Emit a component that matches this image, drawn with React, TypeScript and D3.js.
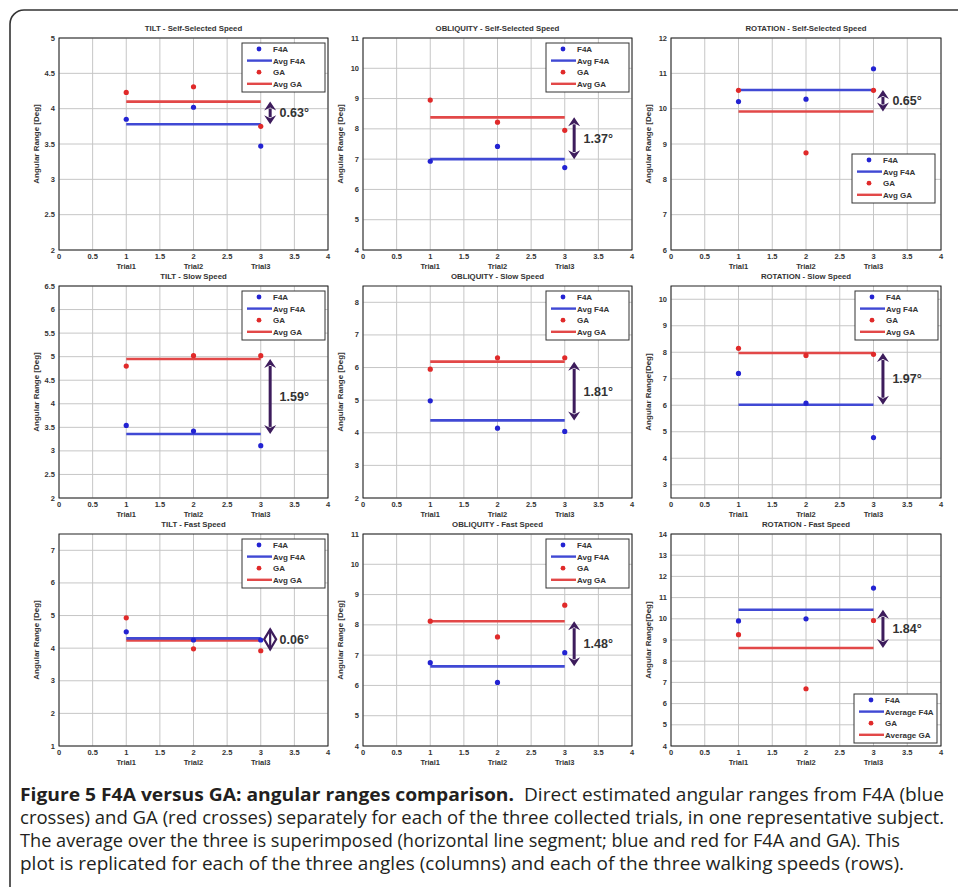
import * as d3 from "d3";

const ANGLES = ["TILT", "OBLIQUITY", "ROTATION"];
const SPEEDS = ["Self-Selected Speed", "Slow Speed", "Fast Speed"];
const TRIALS = [1, 2, 3];
const TRIAL_LABELS = ["Trial1", "Trial2", "Trial3"];
const X_TICKS = [0, 0.5, 1, 1.5, 2, 2.5, 3, 3.5, 4];

// one entry per panel, row by row (self-selected, slow, fast), columns tilt / obliquity / rotation
const F4A = [
  [3.85, 4.02, 3.47], [6.93, 7.42, 6.72], [10.2, 10.27, 11.13],
  [3.54, 3.42, 3.11], [4.98, 4.14, 4.04], [7.2, 6.08, 4.78],
  [4.5, 4.25, 4.25], [6.75, 6.1, 7.08], [9.9, 10.0, 11.45],
];
const GA = [
  [4.23, 4.31, 3.75], [8.95, 8.22, 7.95], [10.52, 8.75, 10.52],
  [4.8, 5.02, 5.02], [5.95, 6.3, 6.3], [8.15, 7.88, 7.92],
  [4.93, 3.98, 3.92], [8.12, 7.6, 8.65], [9.25, 6.7, 9.92],
];
const AVG_F4A = [3.78, 7.0, 10.53, 3.36, 4.38, 6.02, 4.3, 6.63, 10.43];
const AVG_GA = [4.1, 8.38, 9.92, 4.95, 6.18, 7.97, 4.24, 8.12, 8.62];
const DIFF_LABELS = ["0.63°", "1.37°", "0.65°", "1.59°", "1.81°", "1.97°", "0.06°", "1.48°", "1.84°"];
const Y_DOMAINS = [[2, 5], [4, 11], [6, 12], [2, 6.5], [2, 8.5], [2.5, 10.5], [1, 7.5], [4, 11], [4, 14]];
const Y_TICKS = [
  [2, 2.5, 3, 3.5, 4, 4.5, 5],
  [4, 5, 6, 7, 8, 9, 10, 11],
  [6, 7, 8, 9, 10, 11, 12],
  [2, 2.5, 3, 3.5, 4, 4.5, 5, 5.5, 6, 6.5],
  [2, 3, 4, 5, 6, 7, 8],
  [3, 4, 5, 6, 7, 8, 9, 10],
  [1, 2, 3, 4, 5, 6, 7],
  [4, 5, 6, 7, 8, 9, 10, 11],
  [4, 5, 6, 7, 8, 9, 10, 11, 12, 13, 14],
];
const Y_LABELS = [
  "Angular Range [Deg]", "Angular Range [Deg]", "Angular Range [Deg]",
  "Angular Range [Deg]", "Angular Range [Deg]", "Angular Range[Deg]",
  "Angular Range [Deg]", "Angular Range [Deg]", "Angular Range[Deg]",
];
const LEGEND_SHORT = ["F4A", "Avg F4A", "GA", "Avg GA"];
const LEGEND_LONG = ["F4A", "Average F4A", "GA", "Average GA"];

const CAPTION_BOLD = "Figure 5 F4A versus GA: angular ranges comparison.";
const CAPTION_LINES = [
  "Direct estimated angular ranges from F4A (blue",
  "crosses) and GA (red crosses) separately for each of the three collected trials, in one representative subject.",
  "The average over the three is superimposed (horizontal line segment; blue and red for F4A and GA). This",
  "plot is replicated for each of the three angles (columns) and each of the three walking speeds (rows).",
];

const W = 958;
const H = 887;
const COL_X = [[59, 328], [363, 632], [671, 941]];
const ROW_Y = [[38, 250], [286, 498], [534, 746]];
const FONT = "'Liberation Sans', Arial, sans-serif";
const CAP_FONT = "'Open Sans', 'Noto Sans', sans-serif";
const BLUE = "#2323d2";
const BLUE_LINE = "#4049d4";
const RED = "#e02a2a";
const RED_LINE = "#e24848";
const PURPLE = "#3d1c5c";
const TXT = "#333";

function Arrow({ x, ya, yb }: { x: number; ya: number; yb: number }) {
  let top = Math.min(ya, yb);
  let bot = Math.max(ya, yb);
  const hl = 8, hw = 6;
  if (bot - top < 2 * hl) {
    const mid = (top + bot) / 2;
    top = mid - 10;
    bot = mid + 10;
    return (
      <g>
        <path d={`M${x},${top} L${x + hw},${mid} L${x},${bot} L${x - hw},${mid} Z`} fill="#fff" stroke={PURPLE} strokeWidth={2.2} />
        <line x1={x} x2={x} y1={top} y2={bot} stroke={PURPLE} strokeWidth={2.2} />
      </g>
    );
  }
  return (
    <g fill={PURPLE}>
      <line x1={x} x2={x} y1={top + hl - 1} y2={bot - hl + 1} stroke={PURPLE} strokeWidth={3} />
      <path d={`M${x},${top} L${x + hw},${top + hl + 1} L${x},${top + hl - 2} L${x - hw},${top + hl + 1} Z`} />
      <path d={`M${x},${bot} L${x + hw},${bot - hl - 1} L${x},${bot - hl + 2} L${x - hw},${bot - hl - 1} Z`} />
    </g>
  );
}

function Panel({ i }: { i: number }) {
  const row = Math.floor(i / 3);
  const col = i % 3;
  const [x0, x1] = COL_X[col];
  const [y0, y1] = ROW_Y[row];
  const x = d3.scaleLinear().domain([0, 4]).range([x0, x1]);
  const y = d3.scaleLinear().domain(Y_DOMAINS[i]).range([y1, y0]);

  const lw = 83, lh = 49;
  let bx = x1 - 3 - lw, by = y0 + 5;
  if (i === 2) { bx = x1 - 6 - lw; by = 154; }
  if (i === 8) { bx = x1 - 4 - lw; by = y1 - 3 - lh; }
  const labels = i === 8 ? LEGEND_LONG : LEGEND_SHORT;

  const ax = x(3.14);
  const ya = y(AVG_GA[i]);
  const yb = y(AVG_F4A[i]);

  return (
    <g fontFamily={FONT}>
      <rect x={x0} y={y0} width={x1 - x0} height={y1 - y0} fill="#fff" />
      {X_TICKS.map(t => (
        <line key={"gx" + t} x1={x(t)} x2={x(t)} y1={y0} y2={y1} stroke="#c6c6c6" strokeWidth={1} />
      ))}
      {Y_TICKS[i].map(t => (
        <line key={"gy" + t} x1={x0} x2={x1} y1={y(t)} y2={y(t)} stroke="#c6c6c6" strokeWidth={1} />
      ))}
      <rect x={x0} y={y0} width={x1 - x0} height={y1 - y0} fill="none" stroke="#222" strokeWidth={1} />

      {X_TICKS.map(t => (
        <text key={"tx" + t} x={x(t)} y={y1 + 9} textAnchor="middle" fontSize={7.5} fontWeight="bold" fill={TXT}>{String(t)}</text>
      ))}
      {TRIALS.map((t, k) => (
        <text key={"tr" + t} x={x(t)} y={y1 + 19} textAnchor="middle" fontSize={7.5} fontWeight="bold" fill={TXT}>{TRIAL_LABELS[k]}</text>
      ))}
      {Y_TICKS[i].map(t => (
        <text key={"ty" + t} x={x0 - 4} y={y(t) + 2.5} textAnchor="end" fontSize={7.5} fontWeight="bold" fill={TXT}>{String(t)}</text>
      ))}
      <text x={(x0 + x1) / 2} y={y0 - 7} textAnchor="middle" fontSize={7.8} fontWeight="bold" fill={TXT}>
        {`${ANGLES[col]} - ${SPEEDS[row]}`}
      </text>
      <text transform={`translate(${x0 - 20},${(y0 + y1) / 2}) rotate(-90)`} textAnchor="middle" fontSize={8} fontWeight="bold" fill={TXT}>
        {Y_LABELS[i]}
      </text>

      {/* averages */}
      <line x1={x(1)} x2={x(3)} y1={y(AVG_GA[i])} y2={y(AVG_GA[i])} stroke={RED_LINE} strokeWidth={2.6} />
      <line x1={x(1)} x2={x(3)} y1={y(AVG_F4A[i])} y2={y(AVG_F4A[i])} stroke={BLUE_LINE} strokeWidth={2.6} />

      {/* trials */}
      {TRIALS.map((t, k) => (
        <circle key={"b" + t} cx={x(t)} cy={y(F4A[i][k])} r={2.6} fill={BLUE} />
      ))}
      {TRIALS.map((t, k) => (
        <circle key={"r" + t} cx={x(t)} cy={y(GA[i][k])} r={2.6} fill={RED} />
      ))}

      <Arrow x={ax} ya={ya} yb={yb} />
      <text x={x(3.28)} y={(ya + yb) / 2 + 4.5} fontSize={12.5} fontWeight="bold" fill={TXT}>{DIFF_LABELS[i]}</text>

      {/* legend */}
      <g>
        <rect x={bx} y={by} width={lw} height={lh} fill="#fff" stroke="#333" strokeWidth={1} />
        {labels.map((lab, k) => {
          const cy = by + 6 + k * 11.6;
          const isLine = k % 2 === 1;
          const c = k < 2 ? (isLine ? BLUE_LINE : BLUE) : (isLine ? RED_LINE : RED);
          return (
            <g key={lab}>
              {isLine
                ? <line x1={bx + 5} x2={bx + 30} y1={cy} y2={cy} stroke={c} strokeWidth={2.4} />
                : <circle cx={bx + 17} cy={cy} r={2.4} fill={c} />}
              <text x={bx + 31} y={cy + 3} fontSize={8} fontWeight="bold" fill={TXT}>{lab}</text>
            </g>
          );
        })}
      </g>
    </g>
  );
}

export default function App() {
  const panels = d3.range(9);
  return (
    <svg width={W} height={H} viewBox={`0 0 ${W} ${H}`} style={{ position: "absolute", left: 0, top: 0, background: "#fff" }}>
      <rect x={10} y={10} width={1100} height={1100} rx={14} fill="#fff" stroke="#333" strokeWidth={1.6} />
      {panels.map(i => <Panel key={i} i={i} />)}
      <g fontFamily={CAP_FONT} fontSize={18} fill="#231f20">
        <text x={20} y={801} fontWeight="bold" textLength={494} lengthAdjust="spacingAndGlyphs">{CAPTION_BOLD}</text>
        <text x={524} y={801} textLength={420} lengthAdjust="spacingAndGlyphs">{CAPTION_LINES[0]}</text>
        <text x={20} y={824} textLength={924} lengthAdjust="spacingAndGlyphs">{CAPTION_LINES[1]}</text>
        <text x={20} y={847} textLength={880} lengthAdjust="spacingAndGlyphs">{CAPTION_LINES[2]}</text>
        <text x={20} y={870} textLength={884} lengthAdjust="spacingAndGlyphs">{CAPTION_LINES[3]}</text>
      </g>
    </svg>
  );
}
